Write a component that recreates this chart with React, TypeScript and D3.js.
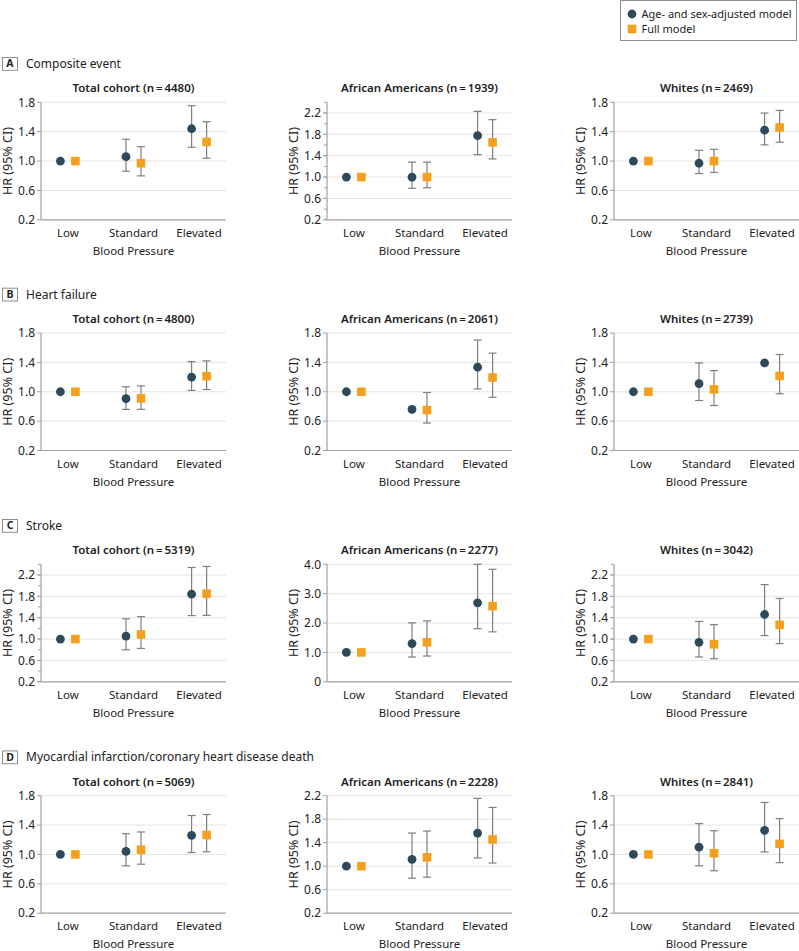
import React from "react";
import * as d3 from "d3";

const categories = ["Low", "Standard", "Elevated"];
const outcomeLetters = ["A", "B", "C", "D"];
const outcomeTitles = [
  "Composite event",
  "Heart failure",
  "Stroke",
  "Myocardial infarction/coronary heart disease death",
];
const cohortTitles = [
  ["Total cohort (n\u2009=\u20094480)", "African Americans (n\u2009=\u20091939)", "Whites (n\u2009=\u20092469)"],
  ["Total cohort (n\u2009=\u20094800)", "African Americans (n\u2009=\u20092061)", "Whites (n\u2009=\u20092739)"],
  ["Total cohort (n\u2009=\u20095319)", "African Americans (n\u2009=\u20092277)", "Whites (n\u2009=\u20093042)"],
  ["Total cohort (n\u2009=\u20095069)", "African Americans (n\u2009=\u20092228)", "Whites (n\u2009=\u20092841)"],
];
const seriesNames = ["Age- and sex-adjusted model", "Full model"];

// Age- and sex-adjusted model
const ageSexHR = [
  [[1, 1.06, 1.44], [1, 1.0, 1.775], [1, 0.97, 1.42]],
  [[1, 0.905, 1.2], [1, 0.76, 1.335], [1, 1.11, 1.393]],
  [[1, 1.056, 1.84], [1, 1.3, 2.69], [1, 0.94, 1.46]],
  [[1, 1.041, 1.26], [1, 1.117, 1.564], [1, 1.099, 1.328]],
];
const ageSexLo = [
  [[null, 0.862, 1.188], [null, 0.79, 1.42], [null, 0.83, 1.22]],
  [[null, 0.76, 1.018], [null, null, 1.039], [null, 0.881, null]],
  [[null, 0.8, 1.44], [null, 0.843, 1.81], [null, 0.664, 1.065]],
  [[null, 0.845, 1.027], [null, 0.796, 1.14], [null, 0.846, 1.034]],
];
const ageSexHi = [
  [[null, 1.297, 1.753], [null, 1.28, 2.23], [null, 1.146, 1.654]],
  [[null, 1.068, 1.41], [null, null, 1.704], [null, 1.393, null]],
  [[null, 1.38, 2.34], [null, 2.006, 4.0], [null, 1.33, 2.02]],
  [[null, 1.283, 1.53], [null, 1.564, 2.154], [null, 1.42, 1.708]],
];
// Full model
const fullHR = [
  [[1, 0.97, 1.26], [1, 1.0, 1.65], [1, 1.0, 1.457]],
  [[1, 0.91, 1.212], [1, 0.75, 1.194], [1, 1.032, 1.215]],
  [[1, 1.0875, 1.85], [1, 1.345, 2.576], [1, 0.902, 1.266]],
  [[1, 1.064, 1.265], [1, 1.151, 1.455], [1, 1.016, 1.144]],
];
const fullLo = [
  [[null, 0.798, 1.038], [null, 0.8, 1.34], [null, 0.845, 1.256]],
  [[null, 0.76, 1.03], [null, 0.574, 0.925], [null, 0.813, 0.973]],
  [[null, 0.825, 1.444], [null, 0.877, 1.7], [null, 0.633, 0.915]],
  [[null, 0.867, 1.036], [null, 0.813, 1.054], [null, 0.778, 0.888]],
];
const fullHi = [
  [[null, 1.196, 1.536], [null, 1.28, 2.075], [null, 1.16, 1.69]],
  [[null, 1.08, 1.42], [null, 0.99, 1.526], [null, 1.288, 1.507]],
  [[null, 1.42, 2.36], [null, 2.074, 3.83], [null, 1.27, 1.76]],
  [[null, 1.306, 1.544], [null, 1.598, 2.0], [null, 1.323, 1.488]],
];

// axes
const yDomains = [
  [[0.2, 1.8], [0.2, 2.4], [0.2, 1.8]],
  [[0.2, 1.8], [0.2, 1.8], [0.2, 1.8]],
  [[0.2, 2.4], [0, 4.0], [0.2, 2.4]],
  [[0.2, 1.8], [0.2, 2.2], [0.2, 1.8]],
];
const ticksSmall = [0.2, 0.6, 1.0, 1.4, 1.8];
const ticksLarge = [0.2, 0.6, 1.0, 1.4, 1.8, 2.2];
const ticksStroke = [0, 1, 2, 3, 4];
const yTicks = [
  [ticksSmall, ticksLarge, ticksSmall],
  [ticksSmall, ticksSmall, ticksSmall],
  [ticksLarge, ticksStroke, ticksLarge],
  [ticksSmall, ticksLarge, ticksSmall],
];
const minorSteps = [
  [0, 0.2, 0],
  [0, 0, 0],
  [0.2, 0, 0.2],
  [0, 0, 0],
];

const FONT = "'Noto Sans', 'DejaVu Sans', sans-serif";
const CIRCLE = "#2c4a5a";
const SQUARE = "#f5a01c";
const BAR = "#7f7f7f";
const GRID = "#e4e4e4";
const AXIS = "#a0a0a0";
const TEXT = "#222";

const panelLefts = [41, 327, 614];
const plotW = 185;
const rowTops = [102.3, 333, 564.3, 795.7];
const plotH = 117.5;

function Panel({ r, c }: { r: number; c: number }) {
  const x0 = panelLefts[c];
  const y0 = rowTops[r];
  const dom = yDomains[r][c];
  const y = d3.scaleLinear().domain(dom).range([y0 + plotH, y0]);
  const x = d3.scalePoint<string>().domain(categories).range([x0, x0 + plotW]).padding(0.41);
  const fmt = (v: number) => (v === 0 ? "0" : d3.format(".1f")(v));
  const ticks = yTicks[r][c];
  const ms = minorSteps[r][c];
  const minor = ms ? d3.range(dom[0], dom[1] + 1e-9, ms).map((v) => +v.toFixed(2)) : [];
  const off = 7.5;
  const cap = 4;
  const series = [
    { hr: ageSexHR[r][c], lo: ageSexLo[r][c], hi: ageSexHi[r][c], dx: -off, kind: "c" },
    { hr: fullHR[r][c], lo: fullLo[r][c], hi: fullHi[r][c], dx: off, kind: "s" },
  ];
  const ybot = y0 + plotH;
  return (
    <g>
      <text x={x0 + plotW / 2} y={y0 - 10} textAnchor="middle" fontSize={11.5} fontWeight={600} fill={TEXT}>
        {cohortTitles[r][c]}
      </text>
      {ticks
        .filter((t) => t !== dom[0])
        .map((t) => (
          <line key={"g" + t} x1={x0} x2={x0 + plotW} y1={y(t)} y2={y(t)} stroke={GRID} strokeWidth={1} />
        ))}
      {minor.map((t) => (
        <line key={"m" + t} x1={x0 - 3} x2={x0} y1={y(t)} y2={y(t)} stroke={AXIS} strokeWidth={1} />
      ))}
      {ticks.map((t) => (
        <g key={"t" + t}>
          <line x1={x0 - 4} x2={x0} y1={y(t)} y2={y(t)} stroke={AXIS} strokeWidth={1} />
          <text x={x0 - 6} y={y(t)} dy="0.35em" textAnchor="end" fontSize={12} fill={TEXT}>
            {fmt(t)}
          </text>
        </g>
      ))}
      <line x1={x0} x2={x0} y1={y0} y2={ybot} stroke={AXIS} strokeWidth={1.2} />
      <line x1={x0} x2={x0 + plotW} y1={ybot} y2={ybot} stroke={AXIS} strokeWidth={1.2} />
      <text
        transform={`translate(${x0 - 33},${y0 + plotH / 2}) rotate(-90)`}
        textAnchor="middle"
        dy="0.35em"
        fontSize={12.5}
        fill={TEXT}
      >
        HR (95% CI)
      </text>
      {categories.map((cat) => (
        <text key={cat} x={x(cat)} y={ybot + 17} textAnchor="middle" fontSize={11.5} fill={TEXT}>
          {cat}
        </text>
      ))}
      <text x={x0 + plotW / 2} y={ybot + 35} textAnchor="middle" fontSize={11.5} fill={TEXT}>
        Blood Pressure
      </text>
      {series.map((s, si) =>
        categories.map((cat, i) => {
          const cx = (x(cat) as number) + s.dx;
          const lo = s.lo[i];
          const hi = s.hi[i];
          const els = [];
          if (hi != null) {
            els.push(<line key="hb" x1={cx} x2={cx} y1={y(hi)} y2={y(s.hr[i])} stroke={BAR} strokeWidth={1.2} />);
            els.push(<line key="hc" x1={cx - cap} x2={cx + cap} y1={y(hi)} y2={y(hi)} stroke={BAR} strokeWidth={1.2} />);
          }
          if (lo != null) {
            els.push(<line key="lb" x1={cx} x2={cx} y1={y(lo)} y2={y(s.hr[i])} stroke={BAR} strokeWidth={1.2} />);
            els.push(<line key="lc" x1={cx - cap} x2={cx + cap} y1={y(lo)} y2={y(lo)} stroke={BAR} strokeWidth={1.2} />);
          }
          if (s.kind === "c") {
            els.push(<circle key="m" cx={cx} cy={y(s.hr[i])} r={4.4} fill={CIRCLE} />);
          } else {
            els.push(<rect key="m" x={cx - 4.3} y={y(s.hr[i]) - 4.3} width={8.6} height={8.6} fill={SQUARE} />);
          }
          return <g key={si + "-" + cat}>{els}</g>;
        })
      )}
    </g>
  );
}

export default function App() {
  return (
    <svg
      width={799}
      height={951}
      style={{ position: "absolute", left: 0, top: 0, background: "#fff" }}
      fontFamily={FONT}
    >
      <rect x={0} y={0} width={799} height={951} fill="#fff" />
      {/* legend */}
      <rect x={620.5} y={0.5} width={176} height={40} fill="none" stroke="#8c8c8c" strokeWidth={1} />
      <circle cx={632} cy={14} r={4.4} fill={CIRCLE} />
      <text x={641.5} y={14} dy="0.35em" fontSize={11} fill={TEXT}>
        {seriesNames[0]}
      </text>
      <rect x={627.7} y={24.7} width={8.6} height={8.6} fill={SQUARE} />
      <text x={641.5} y={29} dy="0.35em" fontSize={11} fill={TEXT}>
        {seriesNames[1]}
      </text>
      {outcomeLetters.map((L, r) => {
        const ty = rowTops[r] - 39;
        return (
          <g key={L}>
            <rect x={2.5} y={ty - 5.8} width={15} height={12.8} fill="none" stroke="#8c8c8c" strokeWidth={1} />
            <text x={10} y={ty + 0.5} dy="0.35em" textAnchor="middle" fontSize={10.5} fontWeight={700} fill={TEXT}>
              {L}
            </text>
            <text x={26} y={ty + 0.5} dy="0.35em" fontSize={12} fill={TEXT}>
              {outcomeTitles[r]}
            </text>
          </g>
        );
      })}
      {[0, 1, 2, 3].map((r) => [0, 1, 2].map((c) => <Panel key={r + "-" + c} r={r} c={c} />))}
    </svg>
  );
}
